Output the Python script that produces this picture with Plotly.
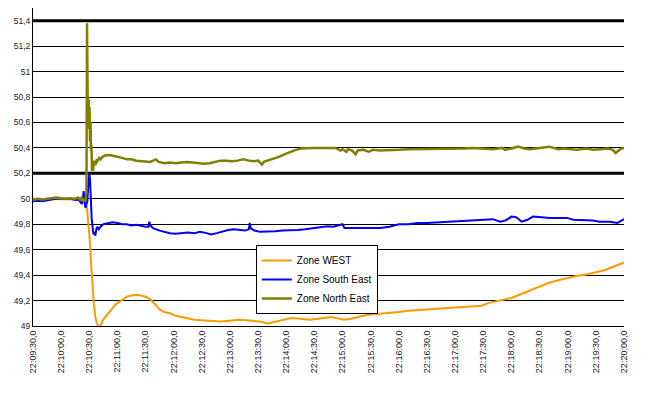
import pandas as pd
import plotly.graph_objects as go

# ---------------- data ----------------
start_time = "2000-01-01 22:09:30"

# seconds after 22:09:30
west_t = [0, 10, 20, 30, 40, 50, 54, 56, 57.5, 59, 60.5, 62, 63.5, 65, 66.5, 68, 69.5, 71, 72.5, 74,
          77, 80, 84, 88, 92, 96, 100, 105, 110, 115, 120, 125, 130, 135, 140, 146, 152, 158, 165,
          172, 180, 188, 195, 200, 206, 212, 220, 228, 235, 242, 247, 251, 256, 262, 268, 274, 280,
          288, 295, 302, 310, 318, 325, 332, 338, 345, 352, 360, 370, 380, 390, 400, 410, 420, 430,
          440, 450, 460, 470, 478, 485, 492, 500, 510, 520, 530, 540, 550, 560, 570, 580, 590, 600,
          610, 620, 630]
west_v = [50.00, 50.00, 49.995, 50.0, 50.0, 49.995, 49.99, 49.97, 49.93, 49.82, 49.68, 49.48, 49.30,
          49.16, 49.07, 49.02, 49.00, 48.99, 49.01, 49.04, 49.07, 49.10, 49.13, 49.17, 49.19, 49.21,
          49.23, 49.24, 49.245, 49.24, 49.23, 49.21, 49.17, 49.13, 49.11, 49.10, 49.08, 49.07, 49.06,
          49.05, 49.045, 49.04, 49.04, 49.035, 49.04, 49.045, 49.05, 49.045, 49.04, 49.035, 49.025,
          49.02, 49.03, 49.04, 49.05, 49.06, 49.06, 49.055, 49.05, 49.055, 49.065, 49.07, 49.06, 49.05,
          49.055, 49.07, 49.08, 49.09, 49.095, 49.10, 49.11, 49.12, 49.125, 49.13, 49.135, 49.14,
          49.145, 49.15, 49.155, 49.16, 49.18, 49.19, 49.20, 49.22, 49.25, 49.28, 49.31, 49.34, 49.36,
          49.38, 49.395, 49.405, 49.42, 49.44, 49.47, 49.50]

south_east_t = [0, 5, 10, 15, 20, 25, 30, 35, 40, 45, 48, 50, 52, 53, 54, 55, 56, 57, 58, 59, 60, 60.8,
                61.5, 62.5, 63.5, 64.5, 65.5, 66.5, 67.5, 68.5, 70, 72, 75, 80, 85, 90, 95, 100, 105,
                110, 115, 120, 123, 124, 125, 128, 135, 140, 146, 152, 158, 165, 172, 178, 185, 190,
                196, 202, 208, 214, 220, 226, 230, 231, 232, 236, 242, 250, 258, 266, 274, 282, 290,
                298, 306, 314, 320, 326, 330, 332, 340, 350, 360, 370, 380, 390, 400, 410, 420, 430,
                440, 450, 460, 470, 480, 490, 498, 504, 510, 515, 521, 527, 533, 540, 551, 569, 576,
                597, 604, 615, 623, 630]
south_east_v = [49.98, 49.985, 49.98, 49.99, 49.995, 50.0, 50.0, 49.995, 50.0, 49.99, 49.995, 49.98,
                49.96, 49.99, 50.06, 49.97, 49.93, 49.96, 49.98, 50.12, 50.20, 50.15, 49.95, 49.85,
                49.78, 49.72, 49.74, 49.71, 49.76, 49.78, 49.76, 49.78, 49.80, 49.81, 49.815, 49.81,
                49.80, 49.80, 49.79, 49.795, 49.785, 49.78, 49.78, 49.82, 49.79, 49.77, 49.75, 49.74,
                49.73, 49.725, 49.73, 49.735, 49.73, 49.74, 49.73, 49.72, 49.73, 49.745, 49.755, 49.76,
                49.755, 49.75, 49.76, 49.81, 49.77, 49.75, 49.74, 49.74, 49.745, 49.75, 49.75, 49.755,
                49.76, 49.77, 49.78, 49.785, 49.78, 49.79, 49.80, 49.77, 49.77, 49.765, 49.77, 49.77,
                49.78, 49.80, 49.80, 49.81, 49.81, 49.815, 49.82, 49.82, 49.825, 49.83, 49.835, 49.84,
                49.82, 49.83, 49.86, 49.855, 49.82, 49.835, 49.86, 49.855, 49.85, 49.85, 49.835, 49.83,
                49.82, 49.82, 49.81, 49.84]

north_east_t = [0, 5, 10, 15, 20, 25, 30, 35, 40, 45, 48, 50, 52, 54, 55, 56, 57, 57.6, 58.2, 58.8,
                59.3, 59.8, 60.3, 60.8, 61.3, 61.8, 62.3, 62.9, 63.5, 64, 64.6, 65.3, 66, 67, 68, 69,
                70.5, 72, 74, 77, 80, 84, 88, 92, 96, 100, 105, 110, 115, 120, 125, 128, 131, 134, 140,
                146, 152, 158, 164, 170, 176, 182, 188, 194, 200, 206, 212, 218, 224, 230, 236, 240,
                244, 246, 250, 256, 262, 268, 274, 280, 286, 292, 298, 304, 310, 316, 322, 328, 330,
                334, 336, 340, 344, 346, 352, 358, 362, 370, 380, 390, 400, 410, 420, 430, 440, 450,
                460, 470, 480, 490, 500, 503, 510, 517, 524, 530, 540, 550, 560, 566, 573, 580, 590,
                597, 605, 612, 616, 618, 621, 626, 630]
north_east_v = [49.99, 50.0, 49.995, 50.0, 50.005, 50.01, 50.005, 50.0, 50.005, 50.0, 50.01, 49.995,
                50.01, 49.98, 50.0, 49.99, 50.05, 51.38, 50.85, 50.62, 50.78, 50.55, 50.72, 50.45,
                50.60, 50.38, 50.42, 50.22, 50.28, 50.22, 50.30, 50.26, 50.30, 50.27, 50.31, 50.30,
                50.32, 50.31, 50.33, 50.34, 50.345, 50.34, 50.335, 50.33, 50.32, 50.31, 50.31, 50.30,
                50.295, 50.29, 50.29, 50.30, 50.31, 50.29, 50.28, 50.285, 50.28, 50.285, 50.29, 50.285,
                50.28, 50.275, 50.28, 50.29, 50.30, 50.30, 50.295, 50.30, 50.31, 50.30, 50.295, 50.30,
                50.27, 50.29, 50.30, 50.31, 50.33, 50.35, 50.37, 50.385, 50.395, 50.40, 50.40, 50.40,
                50.40, 50.395, 50.40, 50.38, 50.39, 50.37, 50.39, 50.38, 50.35, 50.38, 50.385, 50.37,
                50.385, 50.38, 50.38, 50.385, 50.39, 50.39, 50.395, 50.39, 50.395, 50.39, 50.395, 50.40,
                50.395, 50.39, 50.40, 50.385, 50.395, 50.41, 50.395, 50.39, 50.40, 50.41, 50.39, 50.395,
                50.39, 50.385, 50.395, 50.385, 50.39, 50.395, 50.39, 50.385, 50.36, 50.39, 50.40, 50.42]

series_names = ["Zone WEST", "Zone South East", "Zone North East"]
series_colors = ["#FF9900", "#0000FF", "#808000"]

y_tick_values = [49.0, 49.2, 49.4, 49.6, 49.8, 50.0, 50.2, 50.4, 50.6, 50.8, 51.0, 51.2, 51.4]
y_tick_labels = ["49", "49,2", "49,4", "49,6", "49,8", "50", "50,2", "50,4", "50,6", "50,8",
                 "51", "51,2", "51,4"]
bold_levels = [50.2, 51.4]

x_tick_labels = ["22:09:30,0", "22:10:00,0", "22:10:30,0", "22:11:00,0", "22:11:30,0",
                 "22:12:00,0", "22:12:30,0", "22:13:00,0", "22:13:30,0", "22:14:00,0",
                 "22:14:30,0", "22:15:00,0", "22:15:30,0", "22:16:00,0", "22:16:30,0",
                 "22:17:00,0", "22:17:30,0", "22:18:00,0", "22:18:30,0", "22:19:00,0",
                 "22:19:30,0", "22:20:00,0"]

# ---------------- build ----------------
base = pd.Timestamp(start_time)


def to_time(secs):
    return [base + pd.to_timedelta(s, unit="s") for s in secs]


day = start_time.split(" ")[0]
x_tick_values = [pd.Timestamp(day + " " + lbl.split(",")[0]) for lbl in x_tick_labels]
x_minor_ticks = [base + pd.to_timedelta(s, unit="s") for s in range(0, 631, 20)]

fig = go.Figure()
for t, v, name, col in zip([west_t, south_east_t, north_east_t],
                           [west_v, south_east_v, north_east_v],
                           series_names, series_colors):
    fig.add_trace(go.Scatter(x=to_time(t), y=v, mode="lines", name=name,
                             line=dict(color=col, width=2 if col != "#808000" else 2.5)))

for lvl in bold_levels:
    fig.add_shape(type="line", xref="paper", x0=0, x1=1, yref="y", y0=lvl, y1=lvl,
                  line=dict(color="black", width=3), layer="below")

x_range = [x_tick_values[0], x_tick_values[-1]]

# the page body has an 8px default margin, so the figure is sized to fit the window
fig.update_layout(
    width=642, height=385,
    margin=dict(l=25, r=26, t=0, b=67),
    paper_bgcolor="white", plot_bgcolor="white",
    font=dict(family="Liberation Sans, Arial, sans-serif", size=9, color="black"),
    showlegend=True,
    legend=dict(x=0.377, y=0.255, xanchor="left", yanchor="top",
                bgcolor="white", bordercolor="black", borderwidth=1,
                font=dict(size=10, color="black"), tracegroupgap=0),
    xaxis=dict(type="date", range=x_range, tickmode="array", tickvals=x_tick_values,
               ticktext=x_tick_labels, tickangle=-90, ticks="", showgrid=False,
               showline=True, linecolor="black", linewidth=1, zeroline=False,
               tickfont=dict(size=9, color="#222222")),
    xaxis2=dict(type="date", overlaying="x", matches="x", anchor="y", side="bottom",
                range=x_range, tickmode="array", tickvals=x_minor_ticks,
                showticklabels=False, ticks="outside", ticklen=4, tickcolor="black",
                showgrid=False, showline=False, zeroline=False),
    yaxis=dict(range=[49, 51.5], tickmode="array", tickvals=y_tick_values,
               ticktext=y_tick_labels, showgrid=True, gridcolor="black", gridwidth=1,
               showline=True, linecolor="black", linewidth=1, ticks="", zeroline=False,
               tickfont=dict(size=8.5, color="#222222")),
)

fig.write_html("out.html")
